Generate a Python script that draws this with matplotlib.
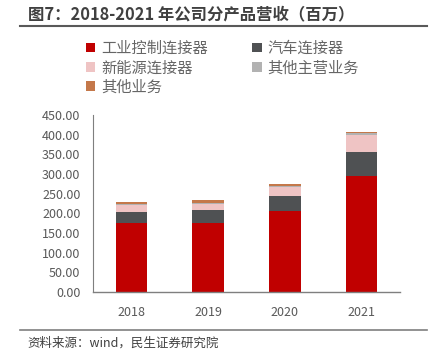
import matplotlib
matplotlib.use("Agg")
import matplotlib.pyplot as plt
import numpy as np
from matplotlib.lines import Line2D

plt.rcParams['font.family'] = ['Noto Sans CJK SC', 'DejaVu Sans']

years = ['2018', '2019', '2020', '2021']
industrial = [175, 176, 206, 296]
auto = [29, 32, 39, 59.5]
new_energy = [17, 16, 23, 43.5]
other_main = [3, 3, 2, 4]
other_biz = [5, 6, 5, 5]

series = [
    ('工业控制连接器', industrial, '#C00000'),
    ('汽车连接器', auto, '#4F5153'),
    ('新能源连接器', new_energy, '#EFC4C4'),
    ('其他主营业务', other_main, '#B2B2B2'),
    ('其他业务', other_biz, '#C4784A'),
]
yticks = [0, 50, 100, 150, 200, 250, 300, 350, 400, 450]

fig = plt.figure(figsize=(4.32, 3.58), dpi=100)
ax = fig.add_axes([93/432, 1-292/358, 307/432, 177/358])

x = np.arange(len(years))
bottom = np.zeros(len(years))
handles = {}
for name, vals, col in series:
    b = ax.bar(x, vals, width=0.41, bottom=bottom, color=col, label=name, zorder=2)
    handles[name] = b
    bottom += np.array(vals, dtype=float)

ax.set_xlim(-0.5, 3.5)
ax.set_ylim(0, 450)
ax.set_xticks(x)
ax.set_xticklabels(years)
ax.set_yticks(yticks)
ax.set_yticklabels([f'{v:.2f}' for v in yticks])
ax.tick_params(axis='both', length=0, labelsize=9, colors='#595959')
ax.tick_params(axis='x', pad=10)
ax.tick_params(axis='y', pad=9)
for s in ['top', 'right']:
    ax.spines[s].set_visible(False)
ax.spines['left'].set_color('#7F7F7F')
ax.spines['left'].set_linewidth(0.8)
ax.spines['bottom'].set_color('#7F7F7F')
ax.spines['bottom'].set_linewidth(1.0)

order = ['工业控制连接器', '新能源连接器', '其他业务', '汽车连接器', '其他主营业务']
leg = fig.legend([handles[n] for n in order], order, loc='upper left',
                 bbox_to_anchor=(86/432, 1-40/358), ncol=2, frameon=False,
                 fontsize=11, handlelength=0.6, handleheight=0.6,
                 handletextpad=0.4, columnspacing=2.9, labelspacing=0.15,
                 borderpad=0, borderaxespad=0)
for t in leg.get_texts():
    t.set_color('#666666')

fig.text(28/432, 1-14/358, '图7：2018-2021 年公司分产品营收（百万）', fontsize=11.8,
         fontweight='bold', color='#404040', va='center', ha='left')
fig.add_artist(Line2D([20/432, 427/432], [1-26/358, 1-26/358], color='#595959', lw=1.5))
fig.add_artist(Line2D([20/432, 427/432], [1-330/358, 1-330/358], color='#7F7F7F', lw=1.2))
fig.text(27/432, 1-343/358, '资料来源：wind，民生证券研究院', fontsize=9,
         color='#404040', va='center', ha='left')

fig.savefig('out.png', dpi=100)
